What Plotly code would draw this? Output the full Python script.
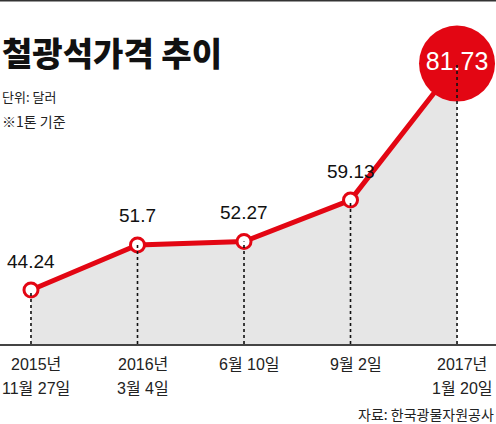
import plotly.graph_objects as go

categories = ["2015년<br>11월 27일", "2016년<br>3월 4일", "6월 10일", "9월 2일", "2017년<br>1월 20일"]
values = [44.24, 51.7, 52.27, 59.13, 81.73]
labels = ["44.24", "51.7", "52.27", "59.13", "81.73"]

RED = "#e30613"
FONT = "Liberation Sans, Noto Sans CJK KR, sans-serif"
KFONT = "Noto Sans CJK KR, sans-serif"

idx = list(range(len(values)))
ymin, ymax = 35.3, 92.25
PLOT_H = 344

fig = go.Figure()

# area fill
fig.add_trace(go.Scatter(x=idx, y=values, mode="lines", line=dict(width=0, color="rgba(0,0,0,0)"),
                         fill="tozeroy", fillcolor="#e6e6e6", hoverinfo="skip", showlegend=False))

# dotted drop lines
for i, v in zip(idx, values):
    fig.add_shape(type="line", xref="x", yref="y", x0=i, x1=i, y0=ymin, y1=v,
                  line=dict(color="#111111", width=1.6, dash="dot"), layer="above")

# red line with markers
fig.add_trace(go.Scatter(x=idx, y=values, mode="lines", line=dict(color=RED, width=5),
                         hoverinfo="skip", showlegend=False, cliponaxis=False))
fig.add_trace(go.Scatter(x=idx[:-1], y=values[:-1], mode="markers",
                         marker=dict(size=14, color="white", line=dict(color=RED, width=3)),
                         hoverinfo="skip", showlegend=False, cliponaxis=False))
# big last marker
fig.add_trace(go.Scatter(x=idx[-1:], y=values[-1:], mode="markers+text",
                         marker=dict(size=76, color=RED, line=dict(width=0)),
                         text=labels[-1:], textposition="middle center",
                         textfont=dict(family=FONT, size=25, color="white"),
                         hoverinfo="skip", showlegend=False, cliponaxis=False))

# value labels
for i, v, t in zip(idx[:-1], values[:-1], labels[:-1]):
    fig.add_annotation(x=i, y=v, text=t, showarrow=False, yshift=29,
                       font=dict(family=FONT, size=19, color="#111111"))

# category labels (two lines each)
for i, c in zip(idx, categories):
    for k, part in enumerate(c.split("<br>")):
        fig.add_annotation(x=i, xref="x", yref="paper", y=(PLOT_H - 365 - 23 * k) / PLOT_H,
                           yanchor="middle", xanchor="center", xshift=5,
                           text=part, showarrow=False,
                           font=dict(family=FONT, size=16, color="#222222"))

# titles
fig.add_annotation(xref="paper", yref="paper", x=0, y=1 - 52 / PLOT_H, xanchor="left", yanchor="middle",
                   text="철광석가격 추이", showarrow=False,
                   font=dict(family=KFONT, size=33, color="#111111", weight=900))
fig.add_annotation(xref="paper", yref="paper", x=0, y=1 - 96 / PLOT_H, xanchor="left", yanchor="middle",
                   text="단위: 달러", showarrow=False,
                   font=dict(family=KFONT, size=13, color="#222222"))
fig.add_annotation(xref="paper", yref="paper", x=0, y=1 - 121 / PLOT_H, xanchor="left", yanchor="middle",
                   text="※1톤 기준", showarrow=False,
                   font=dict(family=KFONT, size=14, color="#222222"))
fig.add_annotation(xref="paper", yref="paper", x=1, y=(PLOT_H - 414) / PLOT_H, xanchor="right", yanchor="middle",
                   text="자료: 한국광물자원공사", showarrow=False,
                   font=dict(family=KFONT, size=14, color="#222222"))

# top border
fig.add_shape(type="line", xref="paper", yref="paper", x0=0, x1=1, y0=1, y1=1,
              line=dict(color="#333333", width=3))

fig.update_layout(
    width=496, height=424,
    margin=dict(l=0, r=0, t=0, b=80),
    paper_bgcolor="white", plot_bgcolor="white",
    showlegend=False,
    xaxis=dict(range=[-0.291, 4.366], showticklabels=False,
               showgrid=False, zeroline=False, showline=True, linecolor="#444444", linewidth=2,
               ticks="", fixedrange=True),
    yaxis=dict(range=[ymin, ymax], visible=False, fixedrange=True),
)

fig.write_html("out.html")
